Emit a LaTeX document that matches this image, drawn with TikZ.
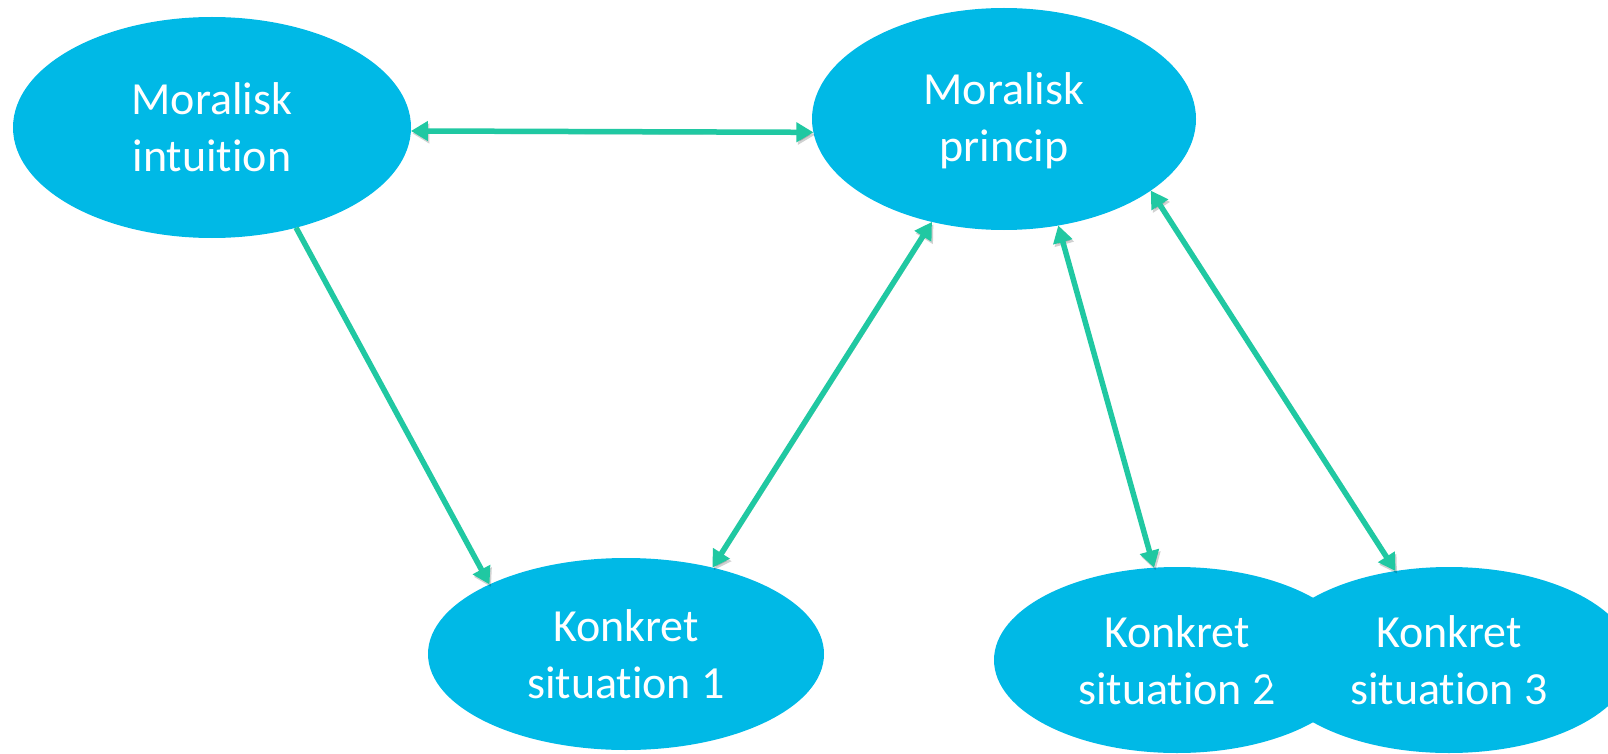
\documentclass[tikz,border=0pt]{standalone}
\usepackage{fontspec}
\setmainfont[Ligatures={NoCommon}]{Carlito}
\usetikzlibrary{shapes.geometric,arrows.meta}
\definecolor{ellblue}{RGB}{0,185,230}
\definecolor{arrgreen}{RGB}{32,200,162}
\tikzset{
  bubble/.style={ellipse, fill=ellblue, draw=none, inner sep=0pt, outer sep=0pt,
    text=white, align=center, font=\fontsize{46}{57}\selectfont},
  arrshadow/.style={preaction={draw=black, draw opacity=0.18, fill opacity=0.18,
    transform canvas={shift={(1.5pt,-2.5pt)}}}},
  link/.style={draw=arrgreen, line width=5.5pt, arrshadow,
    arrows={-Triangle[length=17pt,width=19pt]}},
  biLink/.style={draw=arrgreen, line width=5.5pt, arrshadow,
    arrows={Triangle[length=17pt,width=19pt]-Triangle[length=17pt,width=19pt]}}
}
\begin{document}
\begin{tikzpicture}[x=1pt,y=-1pt]
\useasboundingbox (0,0) rectangle (1608,754);
\clip (0,0) rectangle (1608,754);
\node[bubble, minimum width=398pt, minimum height=221pt] (intu) at (212,127.5) {Moralisk\\intuition};
\node[bubble, minimum width=384pt, minimum height=222pt] (princ) at (1004,119) {};
\node[font=\fontsize{46}{57}\selectfont, text=white, align=center, inner sep=0pt] (princtxt) at (1004,121) {Moralisk\\princip};
\node[bubble, minimum width=396pt, minimum height=192pt] (sit1) at (626,654) {Konkret\\situation 1};
\node[bubble, minimum width=366pt, minimum height=186pt] (sit2) at (1177,660) {Konkret\\situation 2};
\node[bubble, minimum width=366pt, minimum height=186pt] (sit3) at (1449,660) {Konkret\\situation 3};

\draw[biLink] (intu.-1.3) -- (princ.184);
\draw[link] (intu.-50.6) -- (sit1.153.8);
\draw[biLink] (sit1.45.7) -- (princ.-125.4);
\draw[biLink] (princ.-63.7) -- (sit2.104.7);
\draw[biLink] (princ.-26.7) -- (sit3.121.8);
\end{tikzpicture}
\end{document}
